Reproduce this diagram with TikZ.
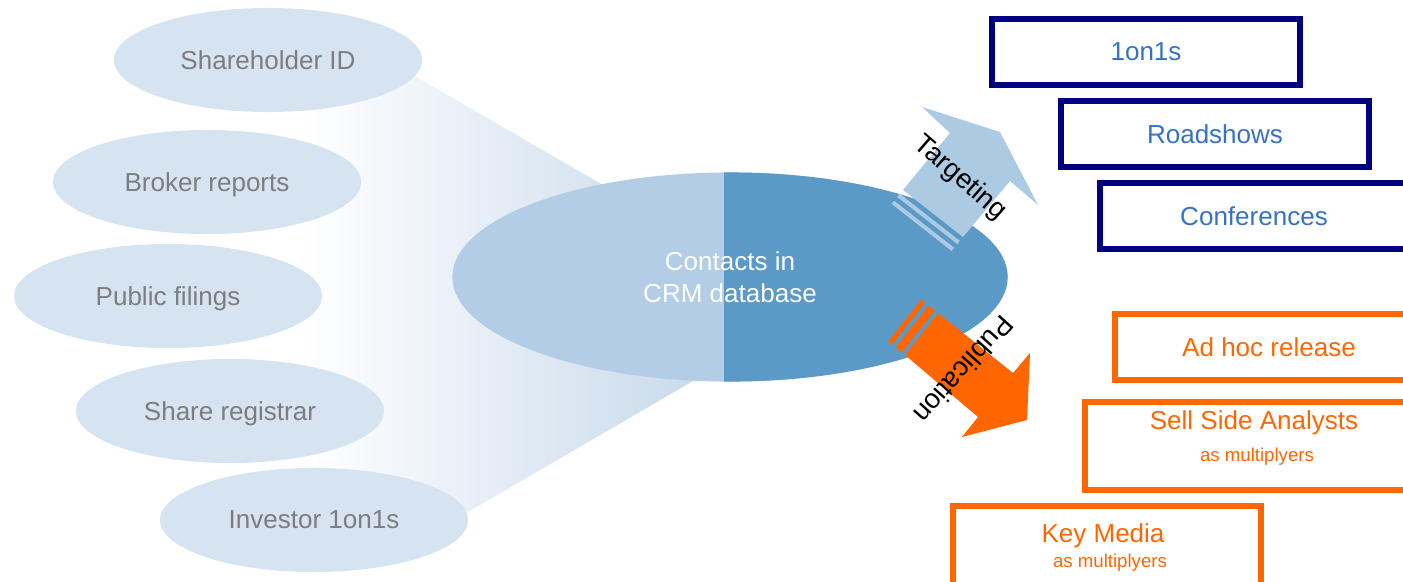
\documentclass[tikz,border=0pt]{standalone}
\usepackage{fontspec}
\setmainfont{Liberation Sans}
\usetikzlibrary{shapes.geometric}

\definecolor{srcfill}{RGB}{214,228,241}
\definecolor{srctext}{RGB}{125,125,125}
\definecolor{funnel}{RGB}{198,216,234}
\definecolor{crmlight}{RGB}{178,205,229}
\definecolor{crmdark}{RGB}{91,153,199}
\definecolor{tgtarrow}{RGB}{172,203,227}
\definecolor{navy}{RGB}{0,0,128}
\definecolor{tgttext}{RGB}{53,114,198}
\definecolor{puborange}{RGB}{255,102,0}

\tikzset{
  src/.style={ellipse, fill=srcfill, text=srctext, minimum width=3.08cm,
    minimum height=1.04cm, inner sep=0pt, text depth=0pt},
  crm/.style={ellipse, fill=crmlight, text=white, align=center,
    minimum width=5.55cm, minimum height=2.09cm, inner sep=0pt,
    path picture={\fill[crmdark] ([xshift=-0.06cm]path picture bounding box.south)
      rectangle (path picture bounding box.north east);}},
  tgtbox/.style={rectangle, draw=navy, line width=0.06cm, text=tgttext,
    minimum width=3.08cm, minimum height=0.66cm, inner sep=0pt},
  pubbox/.style={rectangle, draw=puborange, line width=0.06cm, text=puborange,
    minimum width=3.08cm, minimum height=0.65cm, inner sep=0pt},
  pubtxt/.style={text=puborange, inner sep=0pt, text depth=0pt},
  pubsub/.style={text=puborange, inner sep=0pt, text depth=0pt,
    font=\fontsize{5.3}{6.4}\selectfont},
  flowlabel/.style={text=black, inner sep=0pt, font=\fontsize{7.8}{9}\selectfont}
}

\begin{document}
\begin{tikzpicture}[x=0.01cm, y=-0.01cm, font=\fontsize{7.4}{9.1}\selectfont]
  \useasboundingbox (0,0) rectangle (1403,582);
  \clip (0,0) rectangle (1403,582);

  % funnel from the sources into the database
  \shade[left color=white, right color=funnel] (300,75) -- (413,75) -- (724,255)
    -- (724,381) -- (693,381) -- (468,512) -- (300,512) -- cycle;

  \node[src] (shid) at (268,60) {Shareholder ID};
  \node[src] (broker) at (207,182) {Broker reports};
  \node[src] (filings) at (168,296) {Public filings};
  \node[src] (registrar) at (230,411) {Share registrar};
  \node[src] (investor) at (314,520) {Investor 1on1s};

  \node[crm] (crm) at (730,277) {Contacts in\\CRM database};

  % targeting arrow
  \fill[tgtarrow] (903,190) -- (950,133) -- (922,107) -- (1000,132) -- (1038,205)
    -- (1010,181) -- (963,237) -- cycle;
  \draw[tgtarrow, line width=0.04cm] (898.5,195.4) -- (958.5,242.4);
  \draw[tgtarrow, line width=0.04cm] (892.8,202.3) -- (952.8,249.3);
  \node[flowlabel, rotate=-41] (targeting) at (960,178) {Targeting};

  % publication arrow
  \fill[puborange] (938,313) -- (1013,373) -- (1030,353) -- (1027,420) -- (962,437)
    -- (978,417) -- (905,355) -- cycle;
  \draw[puborange, line width=0.08cm] (931.8,308) -- (898.8,350);
  \draw[puborange, line width=0.05cm] (923.2,301.1) -- (890.2,343.1);
  \node[flowlabel, rotate=-132] (publication) at (964,370) {Publication};

  \node[tgtbox] (oneonone) at (1146,52) {1on1s};
  \node[tgtbox] (roadshows) at (1215,134) {Roadshows};
  \node[tgtbox] (conferences) at (1254,216) {Conferences};

  \node[pubbox] (adhoc) at (1269,347) {Ad hoc release};
  \node[pubbox, minimum width=3.38cm, minimum height=0.88cm] (sellside) at (1254,446) {};
  \node[pubtxt] (selltitle) at (1254,420) {Sell Side Analysts};
  \node[pubsub] (sellnote) at (1257,455) {as multiplyers};
  \node[pubbox, minimum height=0.88cm] (keymedia) at (1107,550) {};
  \node[pubtxt] (mediatitle) at (1103,533) {Key Media};
  \node[pubsub] (medianote) at (1110,561) {as multiplyers};
\end{tikzpicture}
\end{document}
